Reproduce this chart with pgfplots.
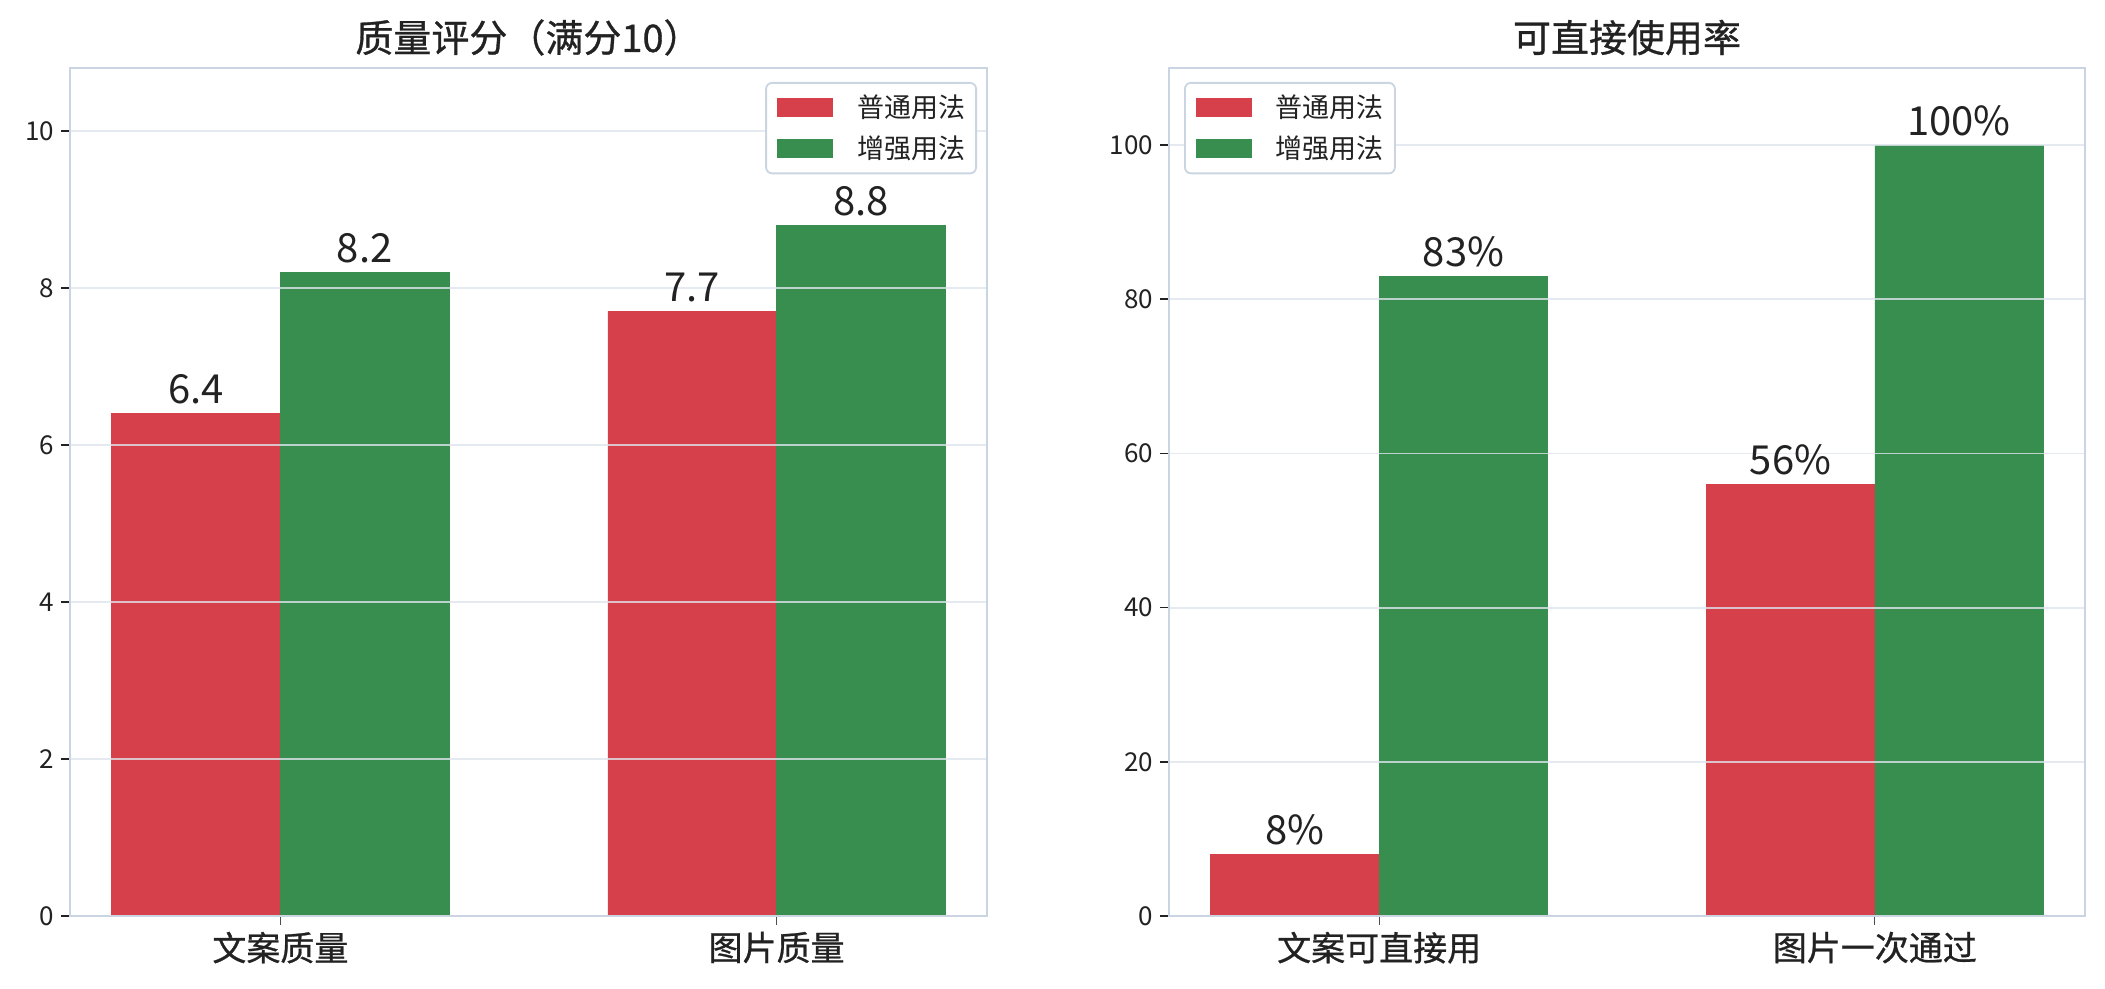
\documentclass[border=0pt]{standalone}
\usepackage{fontspec}
\setmainfont{Noto Sans CJK SC}
\newfontfamily\cjkm[FakeBold=0.8]{Noto Sans CJK SC}
\usepackage{pgfplots}
\pgfplotsset{compat=1.18}
\definecolor{cred}{RGB}{214,64,74}
\definecolor{cgreen}{RGB}{56,142,79}
\definecolor{framec}{RGB}{203,213,225}
\definecolor{gridc}{RGB}{222,228,236}
\definecolor{txt}{RGB}{34,34,34}
\pgfplotsset{
  /pgf/number format/assume math mode=true,
  myaxis/.style={
    scale only axis, width=458.5pt, height=424pt,
    anchor=south west,
    ybar, bar width=0.34,
    xmin=-0.424, xmax=1.424, ymin=0,
    xtick={0,1},
    axis line style={framec, line width=1pt},
    ymajorgrids, grid style={gridc, line width=0.9pt, opacity=0.8},
    axis on top,
    tick align=outside, xtick pos=bottom, ytick pos=left,
    major tick length=4.4pt,
    ytick style={txt, line width=0.8pt},
    xtick style={txt!80, line width=0.6pt},
    yticklabel style={font=\fontsize{13}{15}\selectfont, text=txt},
    xticklabel style={font=\cjkm\fontsize{17}{20}\selectfont, text=txt},
    title style={font=\cjkm\fontsize{19}{22}\selectfont, text=txt, at={(0.5,1)}, anchor=center, yshift=9.25pt},
    nodes near coords style={font=\fontsize{20}{24}\selectfont, text=txt, anchor=base, inner sep=0pt, yshift=5pt},
    legend image code/.code={\draw[#1, draw=none, sharp corners] (0pt,-4.8pt) rectangle (28pt,4.8pt);},
    legend cell align=left,
    legend style={draw=framec, line width=0.9pt, rounded corners=3pt, fill=white,
      font=\fontsize{13.5}{16}\selectfont, text=txt, inner xsep=5.5pt, inner ysep=6pt,
      row sep=7.5pt, column sep=12pt, nodes={inner sep=0pt}},
  }
}
\begin{document}
\begin{tikzpicture}
\begin{axis}[myaxis, at={(35pt,36.5pt)}, width=458.5pt,
  ymax=10.8, ytick={0,2,4,6,8,10},
  xticklabels={文案质量,图片质量},
  title={质量评分（满分10）},
  nodes near coords,
  legend style={at={(1,1)}, anchor=north east, xshift=-5pt, yshift=-7pt}]
\addplot[fill=cred, draw=cred, line width=0.3pt, bar shift=-0.17] coordinates {(0,6.4) (1,7.7)};
\addplot[fill=cgreen, draw=cgreen, line width=0.3pt, bar shift=0.17] coordinates {(0,8.2) (1,8.8)};
\legend{普通用法,增强用法}
\end{axis}
\begin{axis}[myaxis, at={(584.5pt,36.5pt)}, width=458pt,
  ymax=110, ytick={0,20,40,60,80,100},
  xticklabels={文案可直接用,图片一次通过},
  title={可直接使用率},
  nodes near coords={\pgfmathprintnumber{\pgfplotspointmeta}\%},
  legend style={at={(0,1)}, anchor=north west, xshift=7.5pt, yshift=-7pt}]
\addplot[fill=cred, draw=cred, line width=0.3pt, bar shift=-0.17] coordinates {(0,8) (1,56)};
\addplot[fill=cgreen, draw=cgreen, line width=0.3pt, bar shift=0.17] coordinates {(0,83) (1,100)};
\legend{普通用法,增强用法}
\end{axis}
\pgfresetboundingbox
\path[use as bounding box] (0,0) rectangle (1052.5pt,494.5pt);
\end{tikzpicture}
\end{document}
